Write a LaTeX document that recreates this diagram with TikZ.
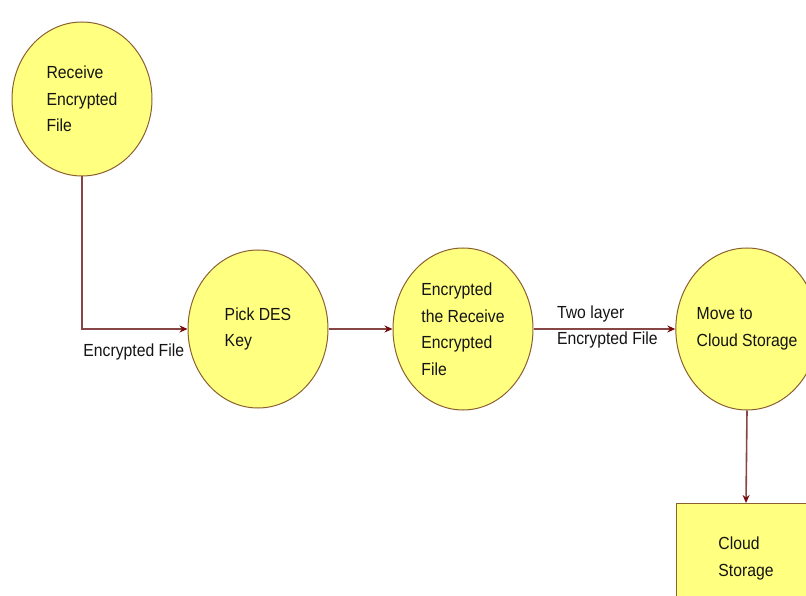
\documentclass[tikz,border=0pt]{standalone}
\usepackage{fontspec}
\setmainfont[FakeStretch=0.9]{Liberation Sans}
\usetikzlibrary{shapes.geometric,arrows.meta}
\definecolor{procfill}{RGB}{255,255,128}
\definecolor{procedge}{RGB}{139,96,48}
\definecolor{flowline}{RGB}{135,70,70}
\definecolor{flowtip}{RGB}{120,10,10}
\definecolor{txt}{RGB}{20,20,20}
\begin{document}
\begin{tikzpicture}[x=1pt,y=-1pt,
  every node/.style={text=txt,font=\fontsize{17.5}{26.5}\selectfont},
  process/.style={ellipse,draw=procedge,line width=1pt,fill=procfill,
    minimum width=140pt,minimum height=158pt,inner sep=0pt,align=left},
  store/.style={rectangle,draw=procedge,line width=1pt,fill=procfill,
    minimum width=140pt,minimum height=110pt,anchor=north,
    inner ysep=26pt,align=left},
  flow/.style={draw=flowline,line width=1.6pt,
    -{Stealth[length=8pt,width=7pt,color=flowtip]}},
  flowlabel/.style={inner sep=0pt,align=left}]
\useasboundingbox (0,0) rectangle (806,596);

% process bubbles
\node[process,minimum height=154pt] (recv) at (82,99) {Receive\\Encrypted\\File};
\node[process] (des) at (258,329) {Pick DES\\Key};
\node[process,minimum height=162pt] (enc) at (463,329) {Encrypted\\the Receive\\Encrypted\\File};
\node[process,minimum height=162pt] (move) at (747,329) {Move to\\Cloud Storage};
% data store
\node[store] (cloud) at (746,503) {Cloud\\Storage};

% data flows
\draw[flow] (recv.south) |- (des.west)
  node[flowlabel,pos=0.75,anchor=north,yshift=-14pt,xshift=-1pt] {Encrypted File};
\draw[flow] (des.east) -- (enc.west);
\draw[flow] (enc.east) -- (move.west)
  node[flowlabel,midway,xshift=3pt,yshift=2pt] {Two layer\\Encrypted File};
\draw[flow] (move.south) -- (cloud.north);
\end{tikzpicture}
\end{document}
